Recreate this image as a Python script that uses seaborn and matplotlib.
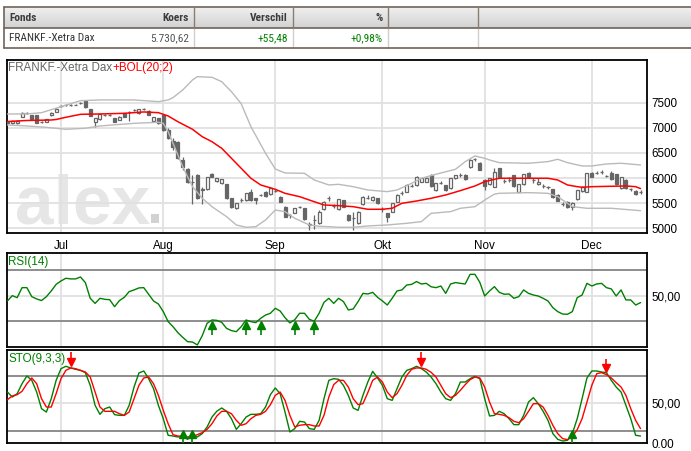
import numpy as np
import matplotlib
matplotlib.use("Agg")
import matplotlib.pyplot as plt
import seaborn as sns
from matplotlib import font_manager as fm
from matplotlib.colors import LinearSegmentedColormap
from matplotlib.patches import Rectangle

# ---------------- data ----------------
table_headers = ["Fonds", "Koers", "Verschil", "%"]
table_values = ["FRANKF.-Xetra Dax", "5.730,62", "+55,48", "+0,98%"]

month_labels = ["Jul", "Aug", "Sep", "Okt", "Nov", "Dec"]
month_first_day = [11, 32, 55, 77, 98, 120]
price_ticks = [5000, 5500, 6000, 6500, 7000, 7500]

opens = [7090, 7100, 7100, 7220, 7295, 7249, 7249, 7115, 7121, 7255,
         7320, 7430, 7450, 7452, 7455, 7485, 7533, 7374, 7109, 7169,
         7250, 7245, 7189, 7155, 7288, 7315, 7350, 7288, 7365, 7341,
         7141, 7189, 7255, 6956, 6743, 6723, 6359, 6174, 5920, 6061,
         5760, 5776, 6081, 5940, 5900, 5882, 5597, 5398, 5565, 5563,
         5729, 5597, 5660, 5729, 5683, 5745, 5629, 5430, 5265, 5310,
         5425, 5398, 5075, 5160, 5099, 5378, 5595, 5440, 5378, 5563,
         5265, 5195, 5099, 5484, 5605, 5563, 5597, 5375, 5298, 5331,
         5529, 5695, 5729, 5840, 5862, 5928, 5928, 6061, 5762, 5905,
         5862, 5796, 5995, 6058, 6061, 6214, 6370, 6306, 5961, 5882,
         5828, 6194, 5945, 5958, 6061, 5729, 5882, 6094, 5958, 5882,
         5840, 5814, 5776, 5663, 5482, 5529, 5430, 5577, 5740, 5729,
         6107, 6105, 6125, 6040, 6107, 6081, 5796, 5961, 5775, 5749,
         5728]
highs = [7140, 7150, 7160, 7320, 7320, 7260, 7260, 7140, 7180, 7310,
         7390, 7450, 7470, 7470, 7475, 7510, 7540, 7380, 7200, 7290,
         7280, 7270, 7200, 7230, 7300, 7340, 7380, 7380, 7390, 7350,
         7220, 7200, 7280, 6990, 6800, 6740, 6420, 6194, 6061, 6080,
         5830, 6030, 6100, 6010, 5990, 5890, 5610, 5510, 5600, 5710,
         5780, 5610, 5690, 5740, 5830, 5780, 5650, 5440, 5290, 5410,
         5450, 5410, 5120, 5260, 5366, 5540, 5640, 5480, 5590, 5570,
         5280, 5331, 5340, 5640, 5660, 5640, 5610, 5420, 5310, 5510,
         5680, 5740, 5880, 5880, 6040, 6010, 6020, 6080, 5910, 5940,
         5870, 6010, 6070, 6100, 6080, 6370, 6400, 6310, 5975, 6010,
         6200, 6200, 5990, 6030, 6070, 5890, 6090, 6120, 6000, 6000,
         5880, 5850, 5790, 5680, 5520, 5540, 5520, 5770, 5840, 6100,
         6120, 6140, 6150, 6060, 6130, 6090, 6030, 5980, 5810, 5760,
         5770]
lows = [7070, 7085, 7085, 7210, 7280, 7150, 7090, 7100, 7110, 7240,
        7310, 7420, 7440, 7440, 7445, 7470, 7400, 7230, 7022, 7160,
        7240, 7230, 7110, 7145, 7210, 7130, 7340, 7280, 7350, 7245,
        7130, 7080, 6940, 6770, 6557, 6380, 6160, 5900, 5490, 5580,
        5490, 5760, 6015, 5930, 5890, 5590, 5410, 5380, 5530, 5550,
        5550, 5480, 5640, 5630, 5670, 5720, 5520, 5220, 5200, 5300,
        5400, 5170, 4966, 4980, 5090, 5364, 5540, 5400, 5364, 5420,
        5150, 4966, 5090, 5470, 5590, 5550, 5490, 5330, 5130, 5320,
        5520, 5670, 5720, 5820, 5850, 5920, 5920, 5830, 5750, 5880,
        5750, 5790, 5985, 6030, 5965, 6200, 6340, 6150, 5762, 5870,
        5820, 6000, 5900, 5930, 5830, 5720, 5870, 6005, 5900, 5870,
        5800, 5790, 5600, 5540, 5440, 5400, 5366, 5570, 5730, 5720,
        6020, 6080, 6090, 6020, 5960, 5870, 5780, 5780, 5740, 5670,
        5690]
closes = [7120, 7135, 7140, 7300, 7300, 7169, 7101, 7120, 7169, 7300,
          7374, 7434, 7454, 7454, 7460, 7488, 7408, 7241, 7189, 7275,
          7255, 7249, 7121, 7221, 7221, 7320, 7354, 7368, 7368, 7255,
          7209, 7089, 6956, 6791, 6624, 6393, 6226, 5927, 5930, 5597,
          5790, 6015, 6030, 5995, 5975, 5597, 5430, 5497, 5570, 5696,
          5563, 5563, 5663, 5650, 5796, 5749, 5529, 5231, 5270, 5398,
          5430, 5179, 5080, 5165, 5331, 5529, 5600, 5444, 5577, 5430,
          5165, 5200, 5331, 5629, 5610, 5629, 5497, 5380, 5219, 5497,
          5663, 5700, 5862, 5845, 6027, 5995, 5995, 5842, 5895, 5908,
          5762, 5995, 6061, 6061, 5975, 6360, 6373, 6160, 5842, 5995,
          6127, 6015, 5947, 5961, 5842, 5882, 6081, 6015, 5961, 5920,
          5842, 5816, 5617, 5549, 5484, 5430, 5510, 5762, 5828, 6094,
          6027, 6107, 6127, 6041, 5975, 5882, 6015, 5796, 5776, 5683,
          5730]

bol_mid_day = [0, 4, 9, 10, 12, 15, 19, 24, 28, 31, 33, 35, 38, 40, 42, 44, 46, 48, 50, 52,
               55, 57, 60, 63, 65, 68, 71, 74, 77, 79, 81, 84, 87, 90, 93, 96, 98, 100, 101, 107,
               111, 113, 115, 117, 118, 120, 127, 129, 130]
bol_mid = [7125, 7145, 7155, 7165, 7209, 7268, 7275, 7288, 7315, 7301, 7235, 7121, 6970, 6823, 6723,
           6592, 6393, 6194, 5995, 5862, 5776, 5696, 5629, 5529, 5464, 5450, 5430, 5378, 5378, 5398,
           5497, 5543, 5597, 5663, 5749, 5842, 5927, 5975, 5995, 5995, 5995, 5961, 5862, 5828, 5816,
           5828, 5842, 5828, 5790]
bol_up_day = [0, 4, 7, 11, 15, 19, 26, 31, 33, 34, 36, 38, 39, 42, 44, 46, 48, 50, 53, 55,
              57, 61, 63, 66, 68, 71, 74, 78, 80, 83, 85, 88, 92, 94, 96, 98, 99, 101, 107, 111,
              113, 115, 118, 120, 123, 126, 130]
bol_up = [7275, 7275, 7301, 7420, 7540, 7554, 7554, 7520, 7554, 7600, 7753, 7952, 8017, 8005, 7918,
          7719, 7480, 7022, 6492, 6180, 6100, 6094, 5961, 5862, 5875, 5828, 5762, 5729, 5762, 5895,
          5995, 6075, 6174, 6326, 6439, 6393, 6360, 6306, 6294, 6327, 6373, 6306, 6240, 6240, 6280,
          6294, 6260]
bol_low_day = [0, 4, 8, 12, 16, 19, 26, 31, 32, 33, 34, 36, 38, 40, 42, 45, 47, 49, 51, 53,
               55, 57, 59, 62, 64, 66, 68, 71, 74, 78, 82, 85, 87, 91, 93, 96, 98, 100, 101, 107,
               111, 113, 115, 116, 119, 124, 130]
bol_low = [7056, 7036, 7009, 6970, 6990, 7036, 7089, 7109, 7089, 6922, 6692, 6226, 5828, 5597, 5430,
           5231, 5066, 5020, 5032, 5165, 5364, 5331, 5199, 5066, 5040, 5032, 5020, 5020, 5046, 5066,
           5099, 5132, 5298, 5331, 5398, 5430, 5563, 5680, 5696, 5709, 5696, 5629, 5497, 5431, 5398,
           5398, 5350]

rsi = [45.8, 50, 48.4, 56.3, 56.3, 49.2, 47.4, 46.1, 49.2, 53.7,
       58.9, 61.6, 63.7, 63.2, 63.2, 64.7, 60.3, 47.9, 43.9, 47.9,
       47.1, 46.8, 41.3, 46.1, 48.7, 53.2, 54.5, 56.1, 56.3, 51.1,
       45.8, 43.4, 37.4, 29.5, 25.5, 20.8, 17.1, 13.7, 13.4, 11.1,
       18.4, 28.2, 30.8, 30.5, 28.9, 24.2, 22.4, 21.6, 25.5, 30.8,
       29.5, 28.7, 32.1, 34.7, 36.1, 40, 37.9, 32.6, 28.5, 31,
       36.1, 36.1, 31.3, 29.8, 36.1, 44.7, 47.9, 43.9, 47.9, 45.3,
       38.7, 39.5, 45.3, 51.8, 51.3, 52.6, 48.7, 45.8, 42.6, 47.9,
       53.7, 54.5, 58.4, 58.9, 61.1, 59.2, 59.7, 57, 56.3, 57.6,
       51.8, 59.2, 60.3, 59.7, 59.2, 66.8, 66.8, 60.5, 49.7, 53.7,
       57.1, 52.6, 51.1, 51.3, 47.9, 49.2, 54.5, 51.8, 50.5, 49.7,
       47.9, 45.8, 40.5, 37.4, 35.5, 35.3, 37.4, 48.4, 50.5, 59.7,
       57.6, 59.2, 59.7, 56.3, 55.3, 49.7, 54.5, 46.6, 46.6, 42.6,
       44.5]
rsi_buy_days = [42, 49, 52, 59, 63]

sto_k = [64.2, 57.9, 62.1, 74.7, 84.4, 78.9, 64.2, 43.2, 39, 55.8,
         78.9, 93.6, 96.6, 94.5, 92.8, 91.5, 88.6, 72.6, 47.4, 36.1,
         43.2, 45.3, 35.7, 34.8, 34.8, 47.4, 70.5, 88.2, 90.7, 81,
         68.4, 47.4, 30.6, 9.7, 8.8, 7.6, 8.8, 4.6, 10.5, 7.6,
         11.8, 20.2, 32.7, 40, 44.1, 39.9, 30.6, 17.2, 24.3, 32.7,
         36.1, 36.1, 36.9, 45.3, 60.9, 69.3, 62.1, 39, 13.9, 18.1,
         27.3, 26.4, 18.1, 17.2, 28.5, 55.8, 78.9, 81, 80.2, 72.6,
         60, 44.1, 41.1, 60, 76.8, 90.3, 81.9, 72.6, 55.8, 53.7,
         68.4, 83.1, 91.5, 93.6, 96.6, 93.6, 89.4, 83, 74.7, 64.2,
         55.8, 53.7, 62.1, 76.8, 76.8, 81, 84, 81, 55.8, 34,
         34.8, 39.9, 36.9, 30.6, 23.1, 23.1, 34.8, 51.6, 57.1, 49.5,
         39.9, 28.5, 11.8, 4.6, 2.5, 3.4, 11.8, 30.6, 55.8, 81.9,
         90.7, 90.7, 89.4, 88.6, 78.9, 70.5, 64.2, 47.4, 30.6, 9.7,
         8.8]
sto_d = [54.6, 59.2, 60.9, 65.1, 74.7, 81.9, 74.7, 55.8, 45.3, 45.3,
         62.1, 81, 91.5, 94.5, 93.6, 91.5, 89.4, 83.1, 64.2, 45.3,
         39.9, 39.9, 39.9, 36.9, 34.8, 39, 55.8, 72.6, 81.9, 83.1,
         74.7, 60, 41.1, 24.3, 10.5, 8.8, 8.4, 7.6, 8.4, 10.5,
         13, 17.2, 24.3, 34, 39.9, 39.9, 36.9, 28.5, 22.3, 24.3,
         30.6, 34.8, 36.1, 39.9, 48.3, 60, 64.2, 53.7, 34.8, 20.2,
         22.3, 23.1, 23.1, 21.4, 21.4, 34.8, 57.9, 73.5, 78.9, 78.9,
         70.5, 55.8, 48.3, 49.5, 63.4, 78.9, 83.1, 76.8, 64.2, 57.1,
         62.1, 72.6, 85.2, 92.8, 94.5, 94.5, 92.8, 89, 83.1, 72.6,
         62.1, 57.1, 60, 66.3, 73.5, 79.8, 83.1, 81.9, 70.5, 51.6,
         36.9, 36.1, 34.8, 31.9, 27.3, 25.6, 30.6, 39.9, 49.5, 49.5,
         45.3, 34.8, 22.3, 11.8, 5.5, 4.2, 8.4, 16.8, 30.6, 51.6,
         72.6, 87.3, 88.6, 86.1, 81.9, 76, 70.5, 60, 43.2, 28.5,
         18.1]
sto_sell_days = [13, 85, 123]
sto_buy_days = [36, 38, 116]

# ---------------- styling ----------------
sns.set_style("white")


def has_font(name):
    try:
        fm.findfont(fm.FontProperties(family=name), fallback_to_default=False)
        return True
    except Exception:
        return False


SANS = "Liberation Sans" if has_font("Liberation Sans") else "DejaVu Sans"
names = {f.name for f in fm.fontManager.ttflist}
NARROW = None
for pref in ["Liberation Sans Narrow", "Arial Narrow", "Roboto Condensed", "Open Sans Condensed"]:
    if pref in names:
        NARROW = pref
        break
TAB_FS = 8.2 if NARROW else 7.8
if NARROW is None:
    NARROW = SANS
plt.rcParams["font.family"] = [SANS, "DejaVu Sans"]

CANDLE = "#666666"
GRID = "#e1e1e1"
LEVEL = "#858585"
GREEN = "#008000"
RED = "#ff0000"
BAND = "#bababa"
FS = 8.4

W, H = 691, 451
fig = plt.figure(figsize=(W / 100, H / 100), dpi=100)
fig.patch.set_facecolor("white")

# ---------------- header table ----------------
axt = fig.add_axes([0, 0, 1, 1])
axt.set_xlim(0, W)
axt.set_ylim(H, 0)
axt.axis("off")
grad = np.linspace(0, 1, 40).reshape(-1, 1)
cmap = LinearSegmentedColormap.from_list("hdr", ["#f0f0f0", "#d2d2d2"])
axt.imshow(grad, extent=(4, W + 5, 28.3, 7.3), aspect="auto", cmap=cmap, zorder=0)
axt.set_xlim(0, W)
axt.set_ylim(H, 0)
BORDER = "#716459"
for yy in (7.3, 28.3, 48.3):
    axt.plot([4, W + 5], [yy, yy], color=BORDER, lw=1.2, zorder=2)
axt.plot([4, 4], [7.3, 48.3], color=BORDER, lw=1.2, zorder=2)
col_right = [194.3, 293.3, 388.3, 477.7]
for xx in col_right:
    axt.plot([xx, xx], [7.3, 28.3], color="#8a7d72", lw=1.0, zorder=2)
    axt.plot([xx, xx], [28.3, 48.3], color="#cfcfcf", lw=1.0, zorder=1)

hdr_kw = dict(family=[NARROW, SANS], fontsize=TAB_FS, fontweight="bold", color="#3c3c3c", va="center")
val_kw = dict(family=[NARROW, SANS], fontsize=TAB_FS, va="center")
axt.text(9, 18, table_headers[0], ha="left", **hdr_kw)
for k in range(1, 4):
    axt.text(col_right[k - 1] - 5.5, 18, table_headers[k], ha="right", **hdr_kw)
axt.text(9, 38.2, table_values[0], ha="left", color="#333333", **val_kw)
axt.text(col_right[0] - 5.5, 38.2, table_values[1], ha="right", color="#555555", **val_kw)
axt.text(col_right[1] - 5.5, 38.2, table_values[2], ha="right", color=GREEN, **val_kw)
axt.text(col_right[2] - 5.5, 38.2, table_values[3], ha="right", color=GREEN, **val_kw)

# ---------------- axes ----------------
L, Wd = 6.7 / W, 640.3 / W
ax = fig.add_axes([L, 1 - 232.7 / H, Wd, 172.7 / H])
axr = fig.add_axes([L, 1 - 347.3 / H, Wd, 94.0 / H])
axs = fig.add_axes([L, 1 - 443.0 / H, Wd, 93.3 / H])

days = np.arange(len(closes))
XLIM = (-0.15, 131.33)

for a in (ax, axr, axs):
    a.set_xlim(*XLIM)
    a.set_axisbelow(True)
    a.set_xticks(month_first_day)
    a.grid(True, color=GRID, lw=1.3)
    for s in a.spines.values():
        s.set_color("black")
        s.set_linewidth(1.3)
    a.yaxis.tick_right()
    a.tick_params(axis="y", length=0, pad=3, labelsize=FS, colors="black")

# ---- main price panel ----
ax.set_ylim(4912, 8349)
ax.set_yticks(price_ticks)
ax.set_yticklabels([str(v) for v in price_ticks])
ax.set_xticklabels(month_labels)
ax.tick_params(axis="x", length=2.5, width=1, pad=3, labelsize=FS, colors="black")

base_y = (232.7 - 223.3) / 172.7
ax.text((15 - 6.7) / 640.3, base_y, "alex", transform=ax.transAxes,
        fontsize=50, fontweight="bold", color="#e6e6e6", ha="left", va="baseline", zorder=0.2,
        family=[SANS])
ax.add_patch(Rectangle(((150.7 - 6.7) / 640.3, base_y), 8.6 / 640.3, 9.3 / 172.7,
                       transform=ax.transAxes, facecolor="#d2d2d2", edgecolor="none", zorder=0.2))

o = np.array(opens, float)
c = np.array(closes, float)
hi = np.array(highs, float)
lo = np.array(lows, float)
up = c >= o
bottom = np.minimum(o, c)
height = np.abs(c - o)
ax.vlines(days, lo, hi, color=CANDLE, lw=0.9, zorder=2)
ax.bar(days[up], height[up], bottom=bottom[up], width=0.62, facecolor="white",
       edgecolor=CANDLE, linewidth=0.9, zorder=3)
ax.bar(days[~up], height[~up], bottom=bottom[~up], width=0.62, facecolor=CANDLE,
       edgecolor=CANDLE, linewidth=0.9, zorder=3)

sns.lineplot(x=bol_up_day, y=bol_up, ax=ax, color=BAND, lw=1.0, zorder=4, legend=False)
sns.lineplot(x=bol_low_day, y=bol_low, ax=ax, color=BAND, lw=1.0, zorder=4, legend=False)
sns.lineplot(x=bol_mid_day, y=bol_mid, ax=ax, color=RED, lw=1.1, zorder=5, legend=False)
ax.set_xlim(*XLIM)
ax.set_ylim(4912, 8349)
ax.set_xlabel("")
ax.set_ylabel("")

t1 = ax.text(1.6 / 640.3, 1 - 8.3 / 172.7, "FRANKF.-Xetra Dax", transform=ax.transAxes,
             fontsize=FS, color="#666666", ha="left", va="center")
ax.annotate("+BOL(20;2)", xy=(1, 0.5), xycoords=t1, fontsize=FS, color=RED,
            ha="left", va="center")

# ---- RSI panel ----
axr.set_ylim(9.25, 83.4)
axr.set_yticks([50])
axr.set_yticklabels(["50,00"])
axr.set_xticklabels([])
axr.tick_params(axis="x", length=0)
for lv in (70, 30):
    axr.axhline(lv, color=LEVEL, lw=1.3, zorder=1)
sns.lineplot(x=days, y=rsi, ax=axr, color=GREEN, lw=1.0, zorder=4, legend=False)
axr.vlines(rsi_buy_days, 19.2, 26.0, color=GREEN, lw=1.2, zorder=5)
axr.plot(rsi_buy_days, [26.8] * len(rsi_buy_days), ls="none", marker="^", ms=5.5,
         color=GREEN, zorder=6)
axr.set_xlim(*XLIM)
axr.set_ylim(9.25, 83.4)
axr.set_xlabel("")
axr.set_ylabel("")
axr.text(1.6 / 640.3, 1 - 8.7 / 94.0, "RSI(14)", transform=axr.transAxes, fontsize=FS,
         color=GREEN, ha="left", va="center")

# ---- Stochastic panel ----
axs.set_ylim(0, 117.5)
axs.set_yticks([0, 50])
axs.set_yticklabels(["0.00", "50,00"])
axs.set_xticklabels([])
axs.tick_params(axis="x", length=0)
for lv in (85, 15):
    axs.axhline(lv, color=LEVEL, lw=1.3, zorder=1)
sns.lineplot(x=days, y=sto_k, ax=axs, color=GREEN, lw=1.0, zorder=4, legend=False)
sns.lineplot(x=days, y=sto_d, ax=axs, color=RED, lw=1.0, zorder=5, legend=False)
dvals = np.array(sto_d)[sto_sell_days]
axs.vlines(sto_sell_days, dvals + 11, dvals + 20, color=RED, lw=1.2, zorder=6)
axs.plot(sto_sell_days, dvals + 8, ls="none", marker="v", ms=5.5, color=RED, zorder=7)
axs.vlines(sto_buy_days, 0, 10, color=GREEN, lw=1.2, zorder=6)
axs.plot(sto_buy_days, [11] * len(sto_buy_days), ls="none", marker="^", ms=5.5,
         color=GREEN, zorder=7)
axs.set_xlim(*XLIM)
axs.set_ylim(0, 117.5)
axs.set_xlabel("")
axs.set_ylabel("")
axs.text(1.6 / 640.3, 1 - 9.0 / 93.3, "STO(9,3,3)", transform=axs.transAxes, fontsize=FS,
         color=GREEN, ha="left", va="center")

fig.savefig("out.png", dpi=100, facecolor="white")
